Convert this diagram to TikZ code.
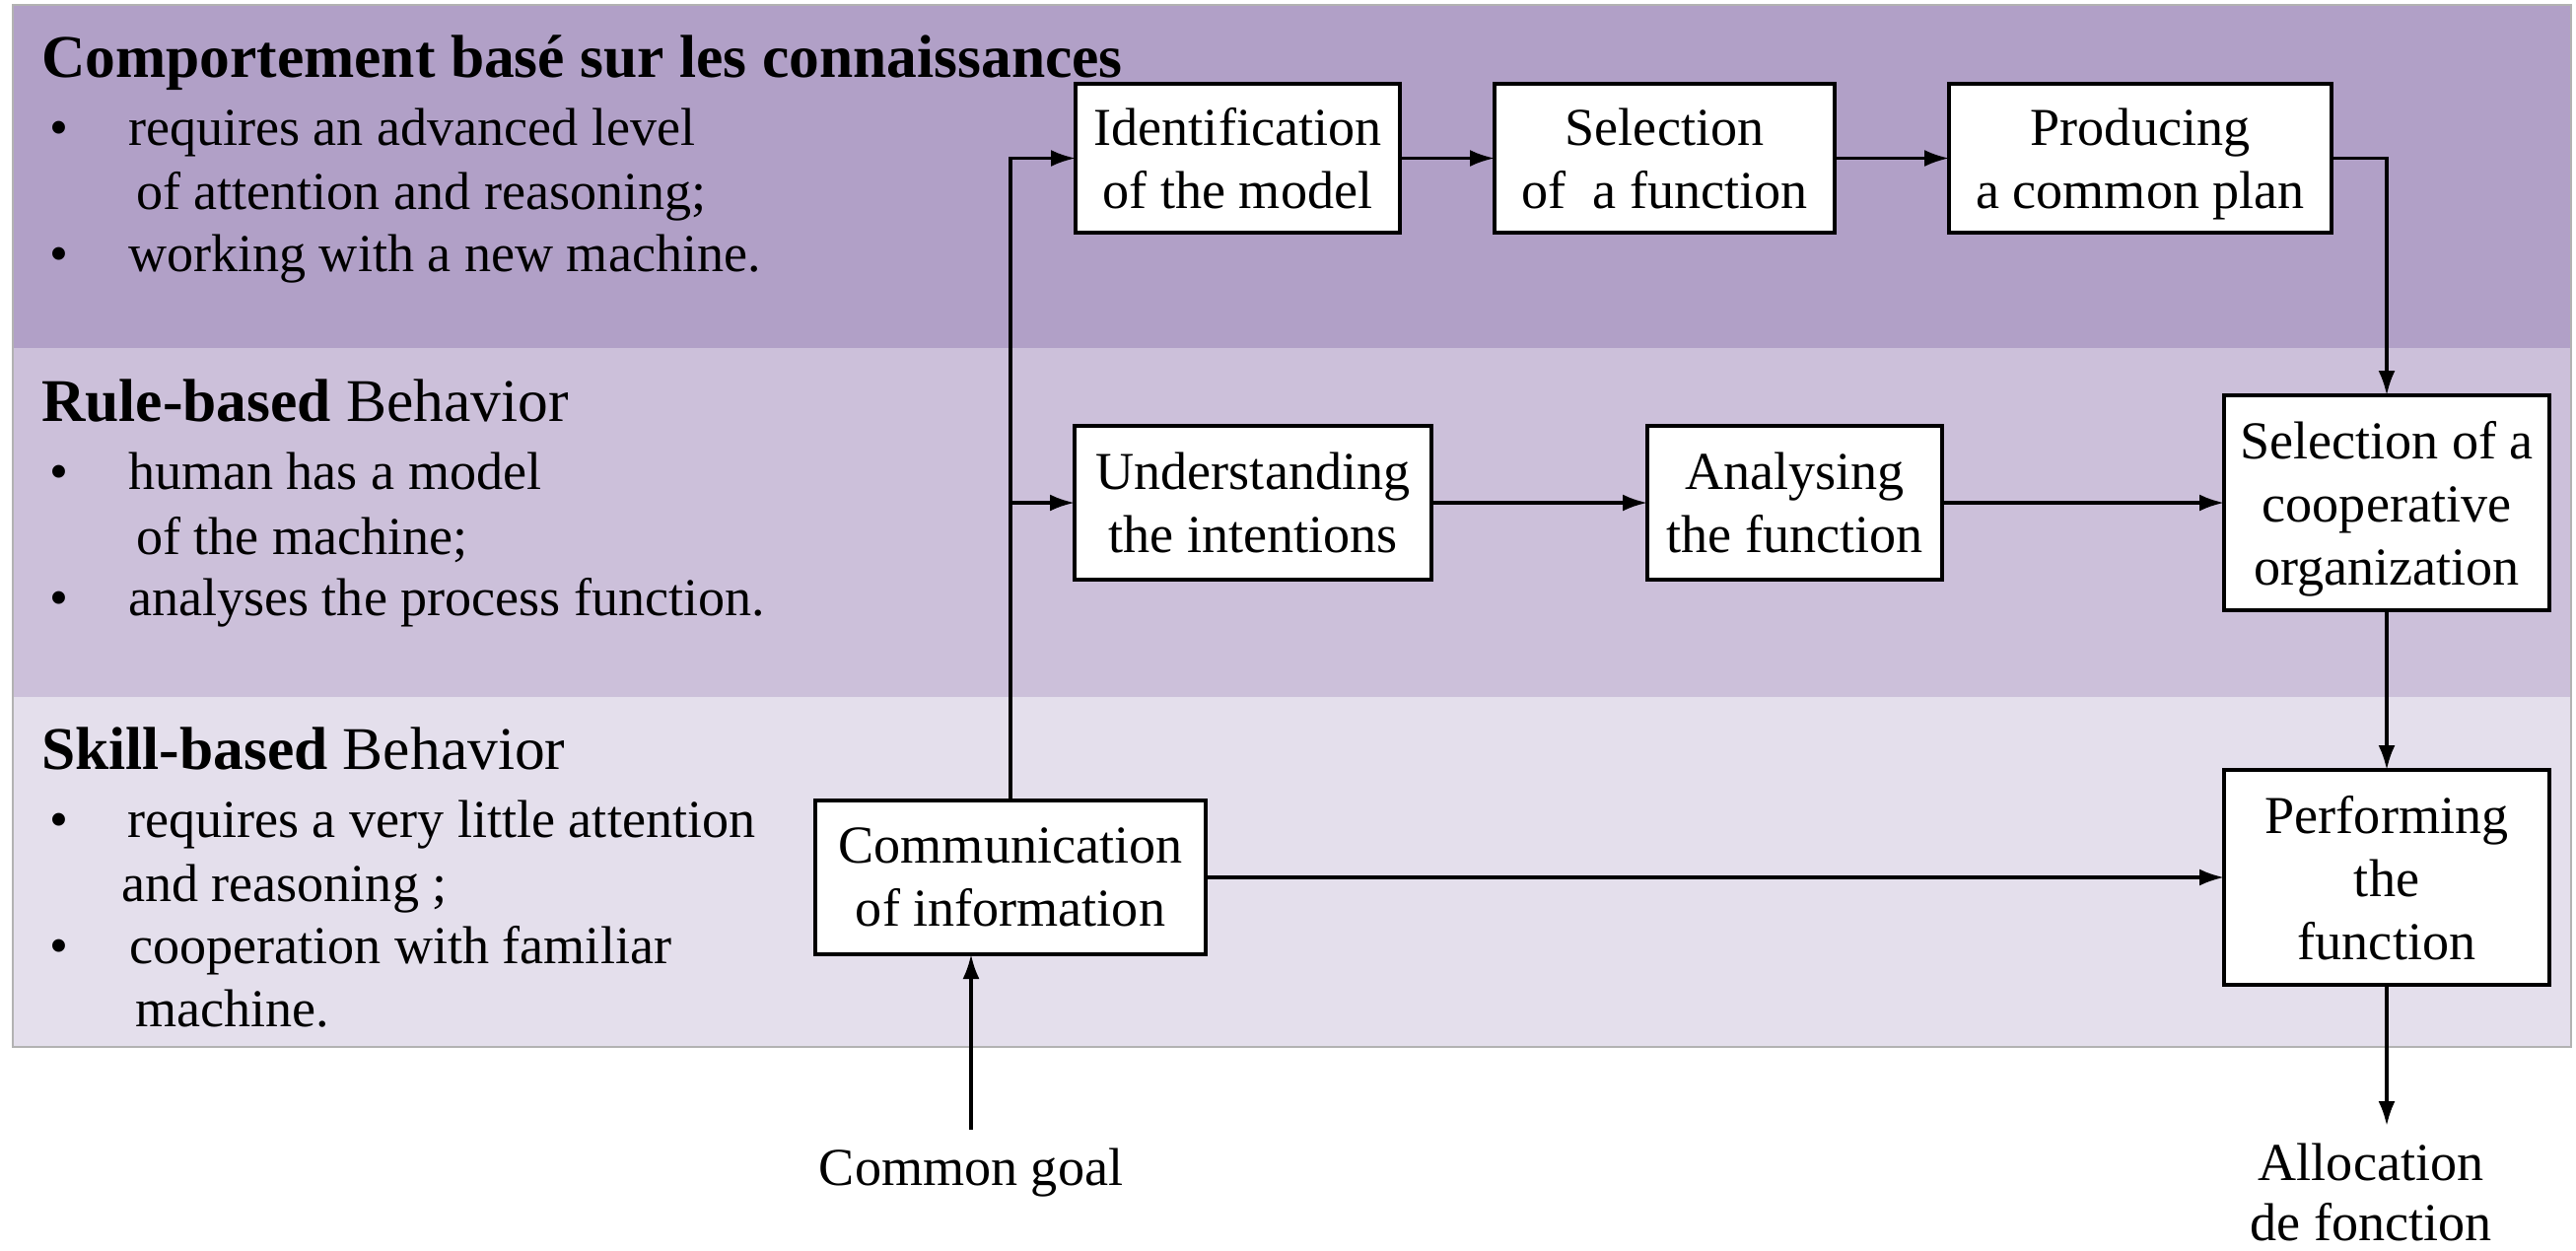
\documentclass[tikz,border=0pt]{standalone}
\usepackage{fontspec}
\setmainfont{Liberation Serif}
\usetikzlibrary{arrows.meta}
\definecolor{bandA}{HTML}{B1A0C7}
\definecolor{bandB}{HTML}{CCC0DA}
\definecolor{bandC}{HTML}{E4DFEC}
\begin{document}
\begin{tikzpicture}[x=0.1mm, y=-0.1mm]
\tikzset{ >={Latex[length=2.5mm,width=1.7mm]}, inner sep=0pt, outer sep=0pt,
  box/.style={draw, fill=white, line width=1.1pt, align=center, text depth=0pt, font=\fontsize{15.4}{18.2}\selectfont},
  txt/.style={anchor=base west, font=\fontsize{15.4}{18.2}\selectfont},
  head/.style={anchor=base west, font=\fontsize{17.5}{21}\selectfont},
  link/.style={->, line width=0.95pt},
}

\useasboundingbox (0,0) rectangle (2613,1268);

% bands
\fill [bandA] (13,5)   rectangle (2608,353);
\fill [bandB] (13,353) rectangle (2608,707);
\fill [bandC] (13,707) rectangle (2608,1062);
\draw [gray!60, line width=0.6pt] (13,5) rectangle (2608,1062);

% left texts
\node [head] (KH)  at (42,78)   {\textbf{Comportement basé sur les connaissances}};
\node [txt]  (KB1) at (50,147)  {•};
\node [txt]  (K1)  at (130,147) {requires an advanced level};
\node [txt]  (K2)  at (138,212) {of attention and reasoning;};
\node [txt]  (KB2) at (50,275)  {•};
\node [txt]  (K3)  at (130,275) {working with a new machine.};

\node [head] (RH)  at (42,427)  {\textbf{Rule-based} Behavior};
\node [txt]  (RB1) at (50,496)  {•};
\node [txt]  (R1)  at (130,496) {human has a model};
\node [txt]  (R2)  at (138,562) {of the machine;};
\node [txt]  (RB2) at (50,624)  {•};
\node [txt]  (R3)  at (130,624) {analyses the process function.};

\node [head] (SH)  at (42,780)  {\textbf{Skill-based} Behavior};
\node [txt]  (SB1) at (50,849)  {•};
\node [txt]  (S1)  at (129,849) {requires a very little attention};
\node [txt]  (S2)  at (123,914) {and reasoning ;};
\node [txt]  (SB2) at (50,977)  {•};
\node [txt]  (S3)  at (131,977) {cooperation with familiar};
\node [txt]  (S4)  at (137,1041) {machine.};

% boxes
\node [box, minimum width=32.9mm, minimum height=15.1mm] (IM) at (1255.5,160.5) {Identification\\of the model};
\node [box, minimum width=34.5mm, minimum height=15.1mm] (SF) at (1688.5,160.5) {Selection\\of~ a function};
\node [box, minimum width=38.8mm, minimum height=15.1mm] (PP) at (2171,160.5)   {Producing\\a common plan};
\node [box, minimum width=36.2mm, minimum height=15.6mm] (UI) at (1271,510)     {Understanding\\the intentions};
\node [box, minimum width=29.9mm, minimum height=15.6mm] (AF) at (1820.5,510)   {Analysing\\the function};
\node [box, minimum width=33.0mm, minimum height=21.8mm] (SC) at (2421,510)     {Selection of a\\cooperative\\organization};
\node [box, minimum width=39.6mm, minimum height=15.6mm] (CI) at (1025,890)     {Communication\\of information};
\node [box, minimum width=33.0mm, minimum height=21.8mm] (PF) at (2421,890)     {Performing\\the\\function};

\node [font=\fontsize{15.4}{18.2}\selectfont, inner sep=1.8mm, anchor=base] (CG) at (985,1202) {Common goal};
\node [font=\fontsize{15.4}{17.2}\selectfont, inner sep=1.8mm, anchor=north, align=center] (AL) at (2405,1142) {Allocation\\de fonction};

% links
\draw [link] (CI.north) |- (IM.west);
\draw [link] (CI.north) |- (UI.west);
\draw [link] (IM) -- (SF);
\draw [link] (SF) -- (PP);
\draw [link] (PP.east) -| (SC.north);
\draw [link] (UI) -- (AF);
\draw [link] (AF) -- (SC);
\draw [link] (SC) -- (PF);
\draw [link] (CI) -- (PF);
\draw [link] (CG.north) -- (CG.north |- CI.south);
\draw [link] (PF.south) -- (PF.south |- AL.north);

\end{tikzpicture}
\end{document}
